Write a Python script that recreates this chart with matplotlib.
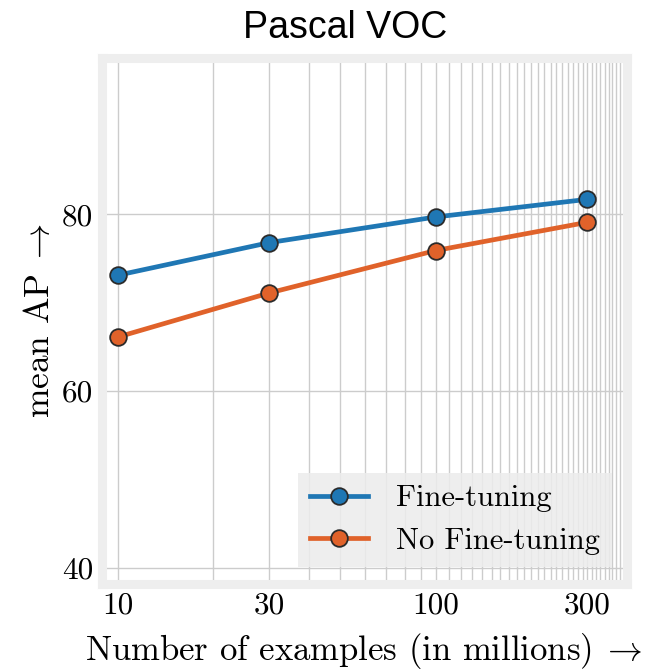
import numpy as np
import matplotlib
matplotlib.use("Agg")
import matplotlib.pyplot as plt
from matplotlib.ticker import FixedLocator, FixedFormatter, MultipleLocator, NullFormatter

# datos (millones de ejemplos vs mean AP)
examples = [10, 30, 100, 300]
ap_finetune = [73.1, 76.8, 79.7, 81.7]
ap_no_finetune = [66.1, 71.1, 75.9, 79.1]

xtick_vals = [10, 30, 100, 300]
xtick_labels = ["10", "30", "100", "300"]
ytick_vals = [40, 60, 80]
ytick_labels = ["40", "60", "80"]

plt.rcParams["font.family"] = "cmr10"
plt.rcParams["mathtext.fontset"] = "cm"
plt.rcParams["axes.unicode_minus"] = False

BLUE = "#1f77b4"
ORANGE = "#e0622a"
EDGE = "#2b2b2b"

fig = plt.figure(figsize=(6.52, 6.70), dpi=100)
ax = fig.add_axes([0.1557, 0.1291, 0.806, 0.7843])

ax.plot(examples, ap_finetune, color=BLUE, lw=3.4, marker="o", ms=12,
        mfc=BLUE, mec=EDGE, mew=1.3, label="Fine-tuning", zorder=3)
ax.plot(examples, ap_no_finetune, color=ORANGE, lw=3.4, marker="o", ms=12,
        mfc=ORANGE, mec=EDGE, mew=1.3, label="No Fine-tuning", zorder=3)

ax.set_xscale("log")
ax.set_xlim(8.9, 400)
ax.set_ylim(38.2, 97.7)

ax.xaxis.set_major_locator(FixedLocator(xtick_vals))
ax.xaxis.set_major_formatter(FixedFormatter(xtick_labels))
ax.xaxis.set_minor_locator(MultipleLocator(10))
ax.xaxis.set_minor_formatter(NullFormatter())
ax.yaxis.set_major_locator(FixedLocator(ytick_vals))
ax.yaxis.set_major_formatter(FixedFormatter(ytick_labels))

ax.tick_params(which="both", length=0, labelsize=22.5, pad=6)
ax.grid(which="both", axis="x", color="#cccccc", lw=1.0)
ax.grid(which="major", axis="y", color="#cccccc", lw=1.0)
ax.set_axisbelow(True)

for s in ax.spines.values():
    s.set_color("#eeeeee")
    s.set_linewidth(6.5)

ax.set_xlabel(r"Number of examples (in millions)$\;\rightarrow$", fontsize=25, labelpad=8)
ax.set_ylabel(r"mean AP$\;\rightarrow$", fontsize=25.5, labelpad=4)
fig.text(0.529, 0.958, "Pascal VOC", family="Liberation Sans", fontsize=27,
         ha="center", va="center")

leg = ax.legend(loc="lower right", bbox_to_anchor=(0.971, 0.031), borderaxespad=0,
                fontsize=22, handlelength=1.9, handletextpad=0.9, fancybox=False,
                framealpha=0.85, facecolor="#ececec", edgecolor="none",
                borderpad=0.4, labelspacing=0.5)

fig.savefig("out.png", dpi=100)
